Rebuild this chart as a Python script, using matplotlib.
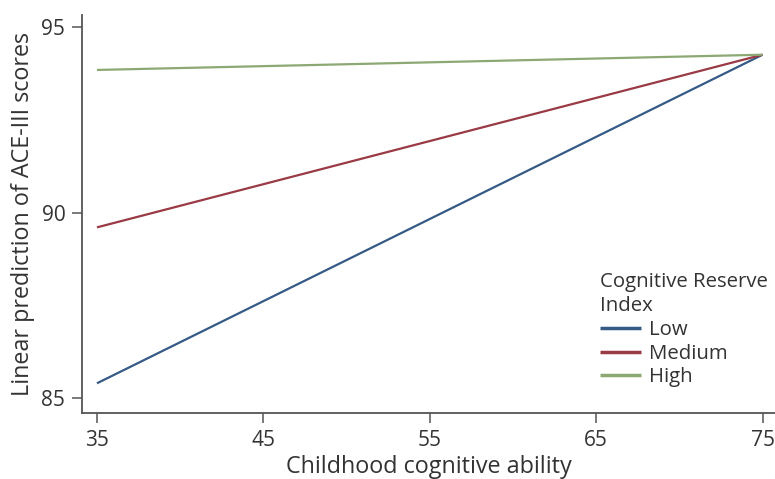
import matplotlib
matplotlib.use("Agg")
import matplotlib.pyplot as plt

plt.rcParams['font.family'] = ['Open Sans', 'DejaVu Sans']

x_vals = [35, 75]
low = [85.4, 94.25]
medium = [89.6, 94.25]
high = [93.84, 94.25]
series_names = ["Low", "Medium", "High"]
colors = ["#355a86", "#9a3a45", "#8ca873"]
xticks = [35, 45, 55, 65, 75]
yticks = [85, 90, 95]

fig = plt.figure(figsize=(7.75, 4.79), dpi=100)
ax = fig.add_axes([82/775, 1-413/479, 1-82/775, (413-15)/479])

for vals, name, c in zip([low, medium, high], series_names, colors):
    ax.plot(x_vals, vals, color=c, lw=1.6, label=name, solid_capstyle='butt')

ax.set_xlim(34.1, 75.75)
ax.set_ylim(84.6, 95.32)
ax.set_xticks(xticks)
ax.set_yticks(yticks)
for s in ['top', 'right']:
    ax.spines[s].set_visible(False)
for s in ['left', 'bottom']:
    ax.spines[s].set_color('#555555')
    ax.spines[s].set_linewidth(1.3)
ax.tick_params(axis='both', direction='out', length=7, width=1.1, color='#555555',
               labelsize=15, labelcolor='#333333', pad=5)
ax.set_xlabel("Childhood cognitive ability", fontsize=16.8, color='#333333', labelpad=3)
ax.set_ylabel("Linear prediction of ACE-III scores", fontsize=16.8, color='#333333', labelpad=5)

leg = ax.legend(title="Cognitive Reserve\nIndex", loc='upper left',
                bbox_to_anchor=(596/775, 1-268/479), bbox_transform=fig.transFigure,
                frameon=False, fontsize=14.7, title_fontsize=14.7,
                handlelength=2.0, handletextpad=0.4, labelspacing=0.18,
                borderaxespad=0, borderpad=0.2)
leg._legend_box.align = "left"
leg._legend_box.sep = 3
leg.get_title().set_color('#333333')
leg.get_title().set_linespacing(1.25)
for t in leg.get_texts():
    t.set_color('#333333')
for h in leg.legend_handles:
    h.set_linewidth(2.5)

fig.savefig("out.png", dpi=100)
